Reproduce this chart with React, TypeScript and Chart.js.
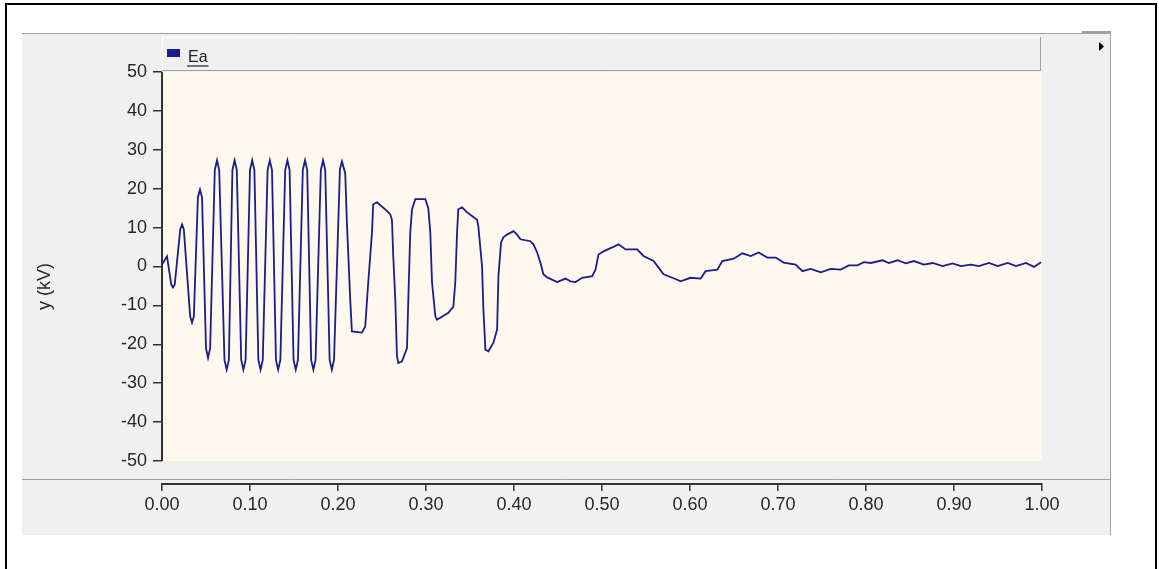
import React, { useEffect, useRef } from 'react';
import { Chart, registerables } from 'chart.js';

Chart.register(...registerables);

const seriesLabel = 'Ea';
const yTitle = 'y (kV)';

const timeS = [
  0, 0.0057, 0.0105, 0.0125, 0.0145, 0.0207, 0.0228, 0.0248, 0.032, 0.0341,
  0.0362, 0.0408, 0.0432, 0.0455, 0.05, 0.0523, 0.0547, 0.06, 0.0625, 0.065,
  0.071, 0.0735, 0.076, 0.08, 0.0825, 0.085, 0.09, 0.0925, 0.095, 0.1,
  0.1025, 0.105, 0.1095, 0.112, 0.1145, 0.12, 0.1225, 0.125, 0.1295, 0.132,
  0.1345, 0.14, 0.1425, 0.145, 0.1495, 0.152, 0.1545, 0.16, 0.1625, 0.165,
  0.1695, 0.172, 0.1745, 0.1805, 0.183, 0.1855, 0.1905, 0.193, 0.1955, 0.2022,
  0.2045, 0.2082, 0.2101, 0.2139, 0.2158, 0.2272, 0.2309, 0.2344, 0.2386,
  0.24, 0.2443, 0.2537, 0.2594, 0.2613, 0.2628, 0.2651, 0.267, 0.2685, 0.2727,
  0.2784, 0.2799, 0.2821, 0.2841, 0.2878, 0.2992, 0.3026, 0.3049, 0.3068, 0.3106,
  0.3125, 0.3254, 0.3311, 0.3333, 0.3353, 0.3367, 0.341, 0.3467, 0.3523, 0.358,
  0.3595, 0.3637, 0.3652, 0.3675, 0.3709, 0.3766, 0.3808, 0.3823, 0.3853, 0.3879,
  0.3921, 0.3993, 0.4035, 0.4073, 0.4187, 0.4221, 0.4263, 0.43, 0.4334, 0.4377,
  0.4491, 0.4585, 0.4642, 0.4699, 0.4775, 0.4889, 0.4926, 0.496, 0.5017, 0.5116,
  0.5188, 0.5267, 0.54, 0.5472, 0.5586, 0.5643, 0.57, 0.5855, 0.5893, 0.6007,
  0.6121, 0.6177, 0.6311, 0.6367, 0.6496, 0.6595, 0.6689, 0.678, 0.6879, 0.6974,
  0.7064, 0.7201, 0.7278, 0.7372, 0.7486, 0.76, 0.7713, 0.7804, 0.7903, 0.7975,
  0.8055, 0.8188, 0.8259, 0.8358, 0.8453, 0.8544, 0.8658, 0.8756, 0.887, 0.8984,
  0.9078, 0.9192, 0.9283, 0.9397, 0.9496, 0.961, 0.9704, 0.9818, 0.9909, 0.9989,
];

const eaKV = [
  0.5, 2.6, -4.6, -5.4, -4.6, 9.5, 10.8, 9.5, -12.8, -14.4,
  -12.8, 17.8, 19.8, 17.8, -21, -23.5, -21, 24.8, 27.3, 24.8,
  -24, -26.5, -24, 24.8, 27.3, 24.8, -24, -26.5, -24, 24.8,
  27.3, 24.8, -24, -26.5, -24, 24.8, 27.3, 24.8, -24, -26.5,
  -24, 24.8, 27.3, 24.8, -24, -26.5, -24, 24.8, 27.3, 24.8,
  -24, -26.5, -24, 24.8, 27.3, 24.8, -24, -26.5, -24, 25,
  27.0, 24, 11.3, -8.5, -16.7, -17, -15.5, -4, 8.7,
  16, 16.5, 14.7, 13.4, 12, 2.6, -8.5, -23, -24.8, -24.4,
  -21, -8.5, 8.7, 14.7, 17.3, 17.3, 15, 8.7, -4, -12.8,
  -13.7, -11.9, -10.3, -4, 8.7, 14.7, 15.2, 13.9, 13, 12,
  10.3, 0, -11, -21.4, -21.8, -19.6, -16.2, -2.5, 6.2, 7.5,
  8.2, 9.1, 8.2, 7, 6.5, 5.7, 3.6, 1, -2, -2.8,
  -4, -3.1, -3.8, -4, -2.9, -2.5, -0.8, 3.1, 3.9, 4.9,
  5.7, 4.4, 4.4, 2.7, 1.4, -0.3, -2, -3.4, -3.8, -2.9,
  -3.1, -1.2, -0.8, 1.4, 2, 3.4, 2.7, 3.6, 2.3, 2.3,
  1, 0.5, -1.2, -0.6, -1.5, -0.6, -0.8, 0.3, 0.3, 1.1,
  0.9, 1.6, 0.9, 1.6, 0.8, 1.4, 0.5, 0.9, 0.1, 0.8,
  0.1, 0.5, 0.1, 0.9, 0.1, 0.9, 0.1, 0.9, -0.1, 1.1,
];

const xTicks = [0, 0.1, 0.2, 0.3, 0.4, 0.5, 0.6, 0.7, 0.8, 0.9, 1.0];
const xTickLabels = ['0.00', '0.10', '0.20', '0.30', '0.40', '0.50', '0.60', '0.70', '0.80', '0.90', '1.00'];
const yTicks = [50, 40, 30, 20, 10, 0, -10, -20, -30, -40, -50];

const W = 1159;
const H = 569;
const LINE_COLOR = '#1c1c8c';
const TEXT_COLOR = '#262626';
const FONT_FAMILY = '"Liberation Sans", Arial, sans-serif';

const framePlugin = {
  id: 'framePlugin',
  beforeDraw(chart: any) {
    const { ctx, chartArea, scales } = chart;
    const ys = scales.y;
    const yTop = ys.getPixelForValue(yTicks[0]);
    const yBot = ys.getPixelForValue(yTicks[yTicks.length - 1]);
    const L = chartArea.left;
    const R = chartArea.right;
    const seg = (x1: number, y1: number, x2: number, y2: number) => {
      ctx.beginPath();
      ctx.moveTo(x1, y1);
      ctx.lineTo(x2, y2);
      ctx.stroke();
    };
    ctx.save();
    ctx.fillStyle = '#ffffff';
    ctx.fillRect(0, 0, W, H);
    // outer frame
    ctx.strokeStyle = '#000000';
    ctx.lineWidth = 2;
    ctx.strokeRect(6, 4, 1150, 620);
    // gray panel
    ctx.fillStyle = '#f0f0f0';
    ctx.fillRect(22, 33, 1089, 502);
    ctx.strokeStyle = '#a0a0a0';
    ctx.lineWidth = 1;
    seg(22, 33.5, 1111, 33.5);
    seg(1110.5, 33, 1110.5, 535);
    seg(22, 479.5, 1111, 479.5);
    ctx.fillStyle = '#a0a0a0';
    ctx.fillRect(1082, 31, 29, 2);
    // legend box
    ctx.fillStyle = '#f0f0f0';
    ctx.fillRect(L, 37, R - 1 - L, 34);
    ctx.strokeStyle = '#ffffff';
    seg(L, 37.5, R - 1, 37.5);
    seg(L + 0.5, 37, L + 0.5, 71);
    ctx.strokeStyle = '#a0a0a0';
    seg(L, 70.5, R - 1, 70.5);
    seg(R - 1.5, 37, R - 1.5, 71);
    ctx.fillStyle = LINE_COLOR;
    ctx.fillRect(L + 5, 49, 13, 8);
    ctx.fillStyle = '#222222';
    ctx.font = '16px ' + FONT_FAMILY;
    ctx.textAlign = 'left';
    ctx.textBaseline = 'alphabetic';
    ctx.fillText(seriesLabel, L + 26, 62);
    const tw = ctx.measureText(seriesLabel).width;
    ctx.strokeStyle = '#333333';
    ctx.lineWidth = 1.3;
    seg(L + 25, 66, L + 26 + tw + 1, 66);
    // plot background
    ctx.fillStyle = '#fdf9ef';
    ctx.fillRect(L, yTop, R - L, yBot - yTop);
    // y axis line
    ctx.strokeStyle = '#333333';
    ctx.lineWidth = 2;
    seg(L, yTop, L, yBot);
    // small arrow
    ctx.fillStyle = '#000000';
    ctx.beginPath();
    ctx.moveTo(1099, 42);
    ctx.lineTo(1104, 46.5);
    ctx.lineTo(1099, 51);
    ctx.closePath();
    ctx.fill();
    // y title
    ctx.save();
    ctx.translate(45, (yTop + yBot) / 2 + 20);
    ctx.rotate(-Math.PI / 2);
    ctx.fillStyle = TEXT_COLOR;
    ctx.font = '18px ' + FONT_FAMILY;
    ctx.textAlign = 'center';
    ctx.textBaseline = 'middle';
    ctx.fillText(yTitle, 0, 0);
    ctx.restore();
    ctx.restore();
  },
};

export default function App() {
  const canvasRef = useRef<HTMLCanvasElement | null>(null);

  useEffect(() => {
    const canvas = canvasRef.current;
    if (!canvas) return;
    // -50 sits 23px above the separate x axis line
    const yAxisFloor = yTicks[yTicks.length - 1] - ((yTicks[0] - yTicks[yTicks.length - 1]) * 23) / 389;
    const chart = new Chart(canvas, {
      type: 'line',
      data: {
        datasets: [
          {
            label: seriesLabel,
            data: timeS.map((t, i) => ({ x: t, y: eaKV[i] })),
            borderColor: LINE_COLOR,
            backgroundColor: LINE_COLOR,
            borderWidth: 1.8,
            pointRadius: 0,
            tension: 0,
            fill: false,
          },
        ],
      },
      options: {
        responsive: false,
        animation: false,
        devicePixelRatio: 1,
        layout: { padding: { left: 0, top: 72, right: 117, bottom: 0 } },
        plugins: {
          legend: { display: false },
          tooltip: { enabled: false },
          title: { display: false },
        },
        scales: {
          x: {
            type: 'linear',
            position: 'bottom',
            min: xTicks[0],
            max: xTicks[xTicks.length - 1],
            afterFit: (s: any) => {
              s.height = 85;
            },
            afterBuildTicks: (s: any) => {
              s.ticks = xTicks.map((v) => ({ value: v }));
            },
            ticks: {
              autoSkip: false,
              maxRotation: 0,
              padding: 3,
              color: TEXT_COLOR,
              font: { family: FONT_FAMILY, size: 18 },
              callback: (_v: any, i: number) => xTickLabels[i],
            },
            grid: { drawOnChartArea: false, tickLength: 7, color: '#333333', lineWidth: 1.5 },
            border: { display: true, color: '#333333', width: 2 },
          },
          y: {
            type: 'linear',
            min: yAxisFloor,
            max: yTicks[0],
            afterFit: (s: any) => {
              s.width = 162;
            },
            afterBuildTicks: (s: any) => {
              s.ticks = yTicks.map((v) => ({ value: v }));
            },
            ticks: {
              autoSkip: false,
              padding: 6,
              color: TEXT_COLOR,
              font: { family: FONT_FAMILY, size: 18 },
              callback: (v: any) => String(v),
            },
            grid: { drawOnChartArea: false, tickLength: 9, color: '#333333', lineWidth: 1.5 },
            border: { display: false },
          },
        },
      },
      plugins: [framePlugin],
    });
    return () => chart.destroy();
  }, []);

  return (
    <div style={{ position: 'fixed', left: 0, top: 0, width: W, height: H, background: '#fff' }}>
      <canvas ref={canvasRef} width={W} height={H} style={{ display: 'block', width: W, height: H }} />
    </div>
  );
}
